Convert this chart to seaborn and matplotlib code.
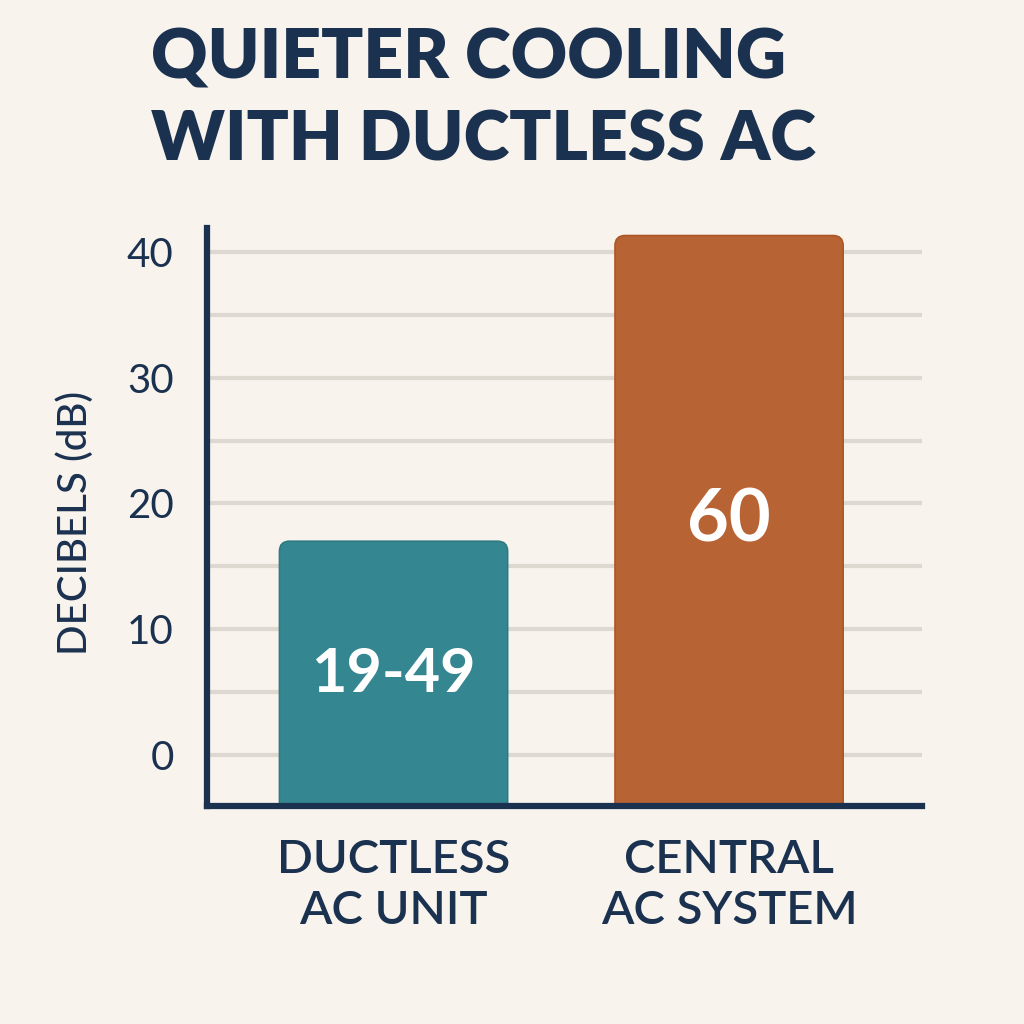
import numpy as np
import pandas as pd
import matplotlib
matplotlib.use("Agg")
import matplotlib.pyplot as plt
from matplotlib.patches import FancyBboxPatch
import seaborn as sns

# data
categories = ["DUCTLESS\nAC UNIT", "CENTRAL\nAC SYSTEM"]
heights = [17, 41.3]
bar_text = ["19-49", "60"]
bar_text_size = [44, 52]
yticks = [0, 10, 20, 30, 40]
grid_levels = [0, 5, 10, 15, 20, 25, 30, 35, 40]

bg = "#f8f3ec"
navy = "#1b3150"
colors = ["#348791", "#b86334"]
edges = ["#2d7a83", "#ad5528"]

sns.set_theme(style="white")
plt.rcParams["font.family"] = ["Lato", "DejaVu Sans"]

df = pd.DataFrame({"system": categories, "db": heights})

fig = plt.figure(figsize=(10.24, 10.24), dpi=100, facecolor=bg)
ax = fig.add_axes([207 / 1024, 1 - 806 / 1024, 715 / 1024, 578 / 1024])
ax.set_facecolor(bg)

sns.barplot(data=df, x="system", y="db", hue="system", palette=colors,
            width=0.68, legend=False, ax=ax, zorder=3)

ymin, ymax = -4.05, 41.9
ax.set_ylim(ymin, ymax)
ax.set_xlim(-0.556, 1.575)

# gridlines every 5 dB
for g in grid_levels:
    ax.axhline(g, color="#ddd8d0", lw=3, zorder=1)

# swap the plain bars for rounded ones that start at the bottom spine
data_aspect = (ymax - ymin) / 578 / (2.131 / 715)
for i, p in enumerate(list(ax.patches)):
    x0, w, h = p.get_x(), p.get_width(), p.get_height()
    p.remove()
    bottom = ymin - 2
    rb = FancyBboxPatch((x0, bottom), w, h - bottom,
                        boxstyle="round,pad=0,rounding_size=0.03",
                        mutation_aspect=data_aspect,
                        facecolor=colors[i], edgecolor=edges[i], lw=1.2,
                        zorder=3, clip_on=True)
    ax.add_patch(rb)
    ax.text(i, (ymin + h) / 2, bar_text[i], ha="center", va="center",
            color="white", fontsize=bar_text_size[i], fontweight="bold",
            zorder=4)

for s in ["top", "right"]:
    ax.spines[s].set_visible(False)
for s in ["left", "bottom"]:
    ax.spines[s].set_color(navy)
    ax.spines[s].set_linewidth(4.5)
    ax.spines[s].set_zorder(5)

ax.set_yticks(yticks)
ax.set_yticklabels([str(t) for t in yticks])
ax.tick_params(axis="y", length=0, pad=24, labelsize=29, labelcolor=navy)
ax.tick_params(axis="x", length=0, pad=24, labelcolor=navy)
for lab in ax.get_xticklabels():
    lab.set_fontsize(34)
    lab.set_fontweight("semibold")
    lab.set_linespacing(1.25)

ax.set_xlabel("")
ax.set_ylabel("DECIBELS (dB)", fontsize=29, color=navy, fontweight="medium")
ax.yaxis.set_label_coords(-0.158, 0.49)

fig.text(151 / 1024, 1 - 28 / 1024, "QUIETER COOLING\nWITH DUCTLESS AC",
         ha="left", va="top", fontsize=50, fontweight="heavy", color=navy,
         linespacing=1.36)

fig.savefig("out.png", dpi=100, facecolor=bg)
